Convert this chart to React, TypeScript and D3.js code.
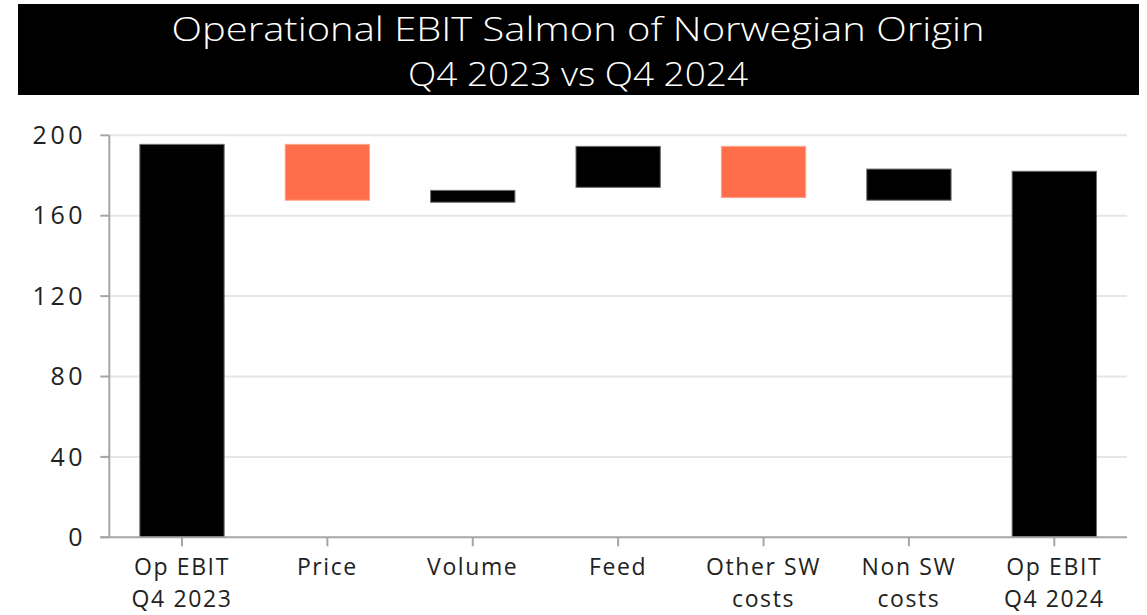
import React from "react";
import * as d3 from "d3";

const categories = [
  ["Op EBIT", "Q4 2023"],
  ["Price"],
  ["Volume"],
  ["Feed"],
  ["Other SW", "costs"],
  ["Non SW", "costs"],
  ["Op EBIT", "Q4 2024"],
];
const barLow = [0, 167.7, 166.7, 174.1, 169, 167.7, 0];
const barHigh = [195.5, 195.5, 172.6, 194.5, 194.5, 183.2, 182.1];
const barKind = ["total", "neg", "pos", "pos", "neg", "pos", "total"];
const yTicks = [0, 40, 80, 120, 160, 200];
const titleLines = ["Operational EBIT Salmon of Norwegian Origin", "Q4 2023 vs Q4 2024"];
const titleWidths = [813, 340];

const W = 1147;
const H = 615;
const FONT = "'Open Sans', Lato, 'DejaVu Sans', sans-serif";

export default function App() {
  const x = d3
    .scaleBand<number>()
    .domain(categories.map((_, i) => i))
    .range([109.3, 1127])
    .paddingInner(0.42)
    .paddingOuter(0.21);
  const y = d3.scaleLinear().domain([0, 200]).range([537.3, 135.3]);
  const x0 = 109.3;
  const x1 = 1127;

  return (
    <svg
      width={W}
      height={H}
      style={{ position: "absolute", left: 0, top: 0, background: "#fff" }}
      fontFamily={FONT}
    >
      <rect x={18} y={4} width={1121} height={91} fill="#000" />
      {titleLines.map((t, i) => (
        <text
          key={i}
          x={578}
          y={41 + i * 45}
          fill="#fff"
          fontSize={33}
          fontWeight={300}
          textAnchor="middle"
          textLength={titleWidths[i]}
          lengthAdjust="spacingAndGlyphs"
        >
          {t}
        </text>
      ))}

      {yTicks.map((v) => (
        <g key={v}>
          {v > 0 && (
            <line x1={x0} x2={x1} y1={y(v)} y2={y(v)} stroke="#e6e6e6" strokeWidth={2} />
          )}
          <line x1={x0 - 9} x2={x0} y1={y(v)} y2={y(v)} stroke="#a6a6a6" strokeWidth={2} />
          <text
            x={86}
            y={y(v)}
            dy="0.35em"
            textAnchor="end"
            fontSize={25}
            letterSpacing={3.5}
            fill="#222"
          >
            {v}
          </text>
        </g>
      ))}

      {categories.map((_, i) => {
        const top = y(barHigh[i]);
        const bot = y(barLow[i]);
        const neg = barKind[i] === "neg";
        return (
          <rect
            key={i}
            x={x(i)}
            y={top}
            width={x.bandwidth()}
            height={bot - top}
            fill={neg ? "#FF6E4A" : "#000"}
            stroke={neg ? "#ffa58c" : "#6e6e6e"}
            strokeWidth={1}
          />
        );
      })}

      <line x1={x0} x2={x0} y1={y(200)} y2={y(0)} stroke="#a6a6a6" strokeWidth={2} />
      <line x1={x0 - 9} x2={x1} y1={y(0)} y2={y(0)} stroke="#a6a6a6" strokeWidth={2} />

      {categories.map((lines, i) => {
        const cx = (x(i) as number) + x.bandwidth() / 2;
        return (
          <g key={i}>
            <line x1={cx} x2={cx} y1={y(0)} y2={y(0) + 9} stroke="#a6a6a6" strokeWidth={2} />
            {lines.map((l, j) => (
              <text
                key={j}
                x={cx}
                y={575 + j * 32}
                textAnchor="middle"
                fontSize={23}
                letterSpacing={1.6}
                fill="#222"
              >
                {l}
              </text>
            ))}
          </g>
        );
      })}
    </svg>
  );
}
